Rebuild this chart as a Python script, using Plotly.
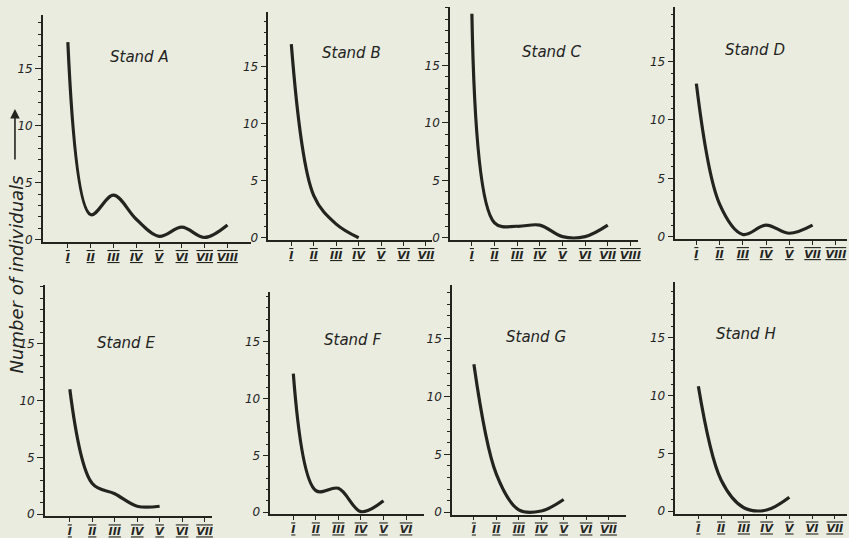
import plotly.graph_objects as go

# ---------------- data ----------------
roman = ["I", "II", "III", "IV", "V", "VI", "VII", "VIII"]
stand_names = ["Stand A", "Stand B", "Stand C", "Stand D",
               "Stand E", "Stand F", "Stand G", "Stand H"]

vals_A = [17.3, 2.2, 3.9, 1.8, 0.3, 1.1, 0.2, 1.3]
vals_B = [17.0, 3.7, 1.2, 0.0]
vals_C = [19.5, 1.3, 1.0, 1.1, 0.1, 0.1, 1.1]
vals_D = [13.1, 2.8, 0.2, 1.0, 0.3, 1.0]
vals_E = [11.0, 2.7, 1.8, 0.7, 0.7]
vals_F = [12.2, 1.9, 2.1, 0.05, 1.0]
vals_G = [12.8, 3.3, 0.2, 0.1, 1.1]
vals_H = [10.8, 2.7, 0.3, 0.1, 1.2]

ticks_A = roman[:8]
ticks_B = roman[:7]
ticks_C = roman[:8]
ticks_D = ["I", "II", "III", "IV", "V", "VII", "VIII"]
ticks_E = roman[:7]
ticks_F = roman[:6]
ticks_G = roman[:7]
ticks_H = roman[:7]

y_tick_vals = [0, 5, 10, 15]
y_title = "Number of individuals"

series = [vals_A, vals_B, vals_C, vals_D, vals_E, vals_F, vals_G, vals_H]
xticks = [ticks_A, ticks_B, ticks_C, ticks_D, ticks_E, ticks_F, ticks_G, ticks_H]

# ---------------- layout (pixel geometry of each small panel) ----------------
W, H = 849, 538
# left, right, px of tick I, spacing, zero px, top px, px per unit
geom = [
    (43, 252, 68, 22.86, 242, 15, 11.53),
    (269, 433, 292, 22.5, 240, 12, 11.5),
    (451, 640, 473, 22.7, 240, 7, 11.6),
    (677, 849, 698, 23.3, 239, 7, 11.8),
    (45, 213, 70, 22.5, 519, 288, 11.47),
    (271, 425, 294, 22.6, 517, 295, 11.47),
    (453, 627, 475, 22.5, 517, 288, 11.67),
    (677, 849, 700, 22.8, 516, 285, 11.67),
]
label_pos = [(140, 58), (352, 53), (553, 52), (757, 50),
             (126, 346), (353, 343), (537, 340), (748, 337)]

ink = "#24241f"
bg = "#eaecdf"
FONT = "DejaVu Sans"
ylo = -0.2

fig = go.Figure()
layout = dict(
    width=W, height=H, margin=dict(l=0, r=0, t=0, b=0),
    paper_bgcolor=bg, plot_bgcolor="rgba(0,0,0,0)", showlegend=False,
    annotations=[],
)

for i, (vals, tt, g) in enumerate(zip(series, xticks, geom)):
    left, right, ipx, sp, zero, top, ppu = g
    n = i + 1
    xa = "xaxis" if n == 1 else f"xaxis{n}"
    ya = "yaxis" if n == 1 else f"yaxis{n}"
    xr = "x" if n == 1 else f"x{n}"
    yr = "y" if n == 1 else f"y{n}"
    xs = list(range(1, len(vals) + 1))
    fig.add_trace(go.Scatter(
        x=xs, y=vals, mode="lines", xaxis=xr, yaxis=yr,
        line=dict(color=ink, width=3.2, shape="spline", smoothing=1.0),
        hoverinfo="skip",
    ))
    lo = 1 - (ipx - left) / sp
    hi = 1 + (right - ipx) / sp
    yhi = (zero - top) / ppu
    bottom_px = zero - ylo * ppu
    ticktext = [
        f'<span style="text-decoration:underline overline">{t}</span>' for t in tt
    ]
    layout[xa] = dict(
        domain=[left / W, right / W], range=[lo, hi], anchor=yr,
        showline=True, linecolor=ink, linewidth=1.5,
        showgrid=False, zeroline=False,
        tickmode="array", tickvals=list(range(1, len(tt) + 1)), ticktext=ticktext,
        ticks="outside", ticklen=4, tickcolor=ink, tickwidth=1.3,
        tickfont=dict(family=FONT, size=11, color=ink, style="italic", weight="bold"),
    )
    layout[ya] = dict(
        domain=[(H - bottom_px) / H, (H - top) / H], range=[ylo, yhi], anchor=xr,
        showline=True, linecolor=ink, linewidth=1.5,
        showgrid=False, zeroline=False,
        tickmode="array", tickvals=y_tick_vals,
        ticks="outside", ticklen=6, tickcolor=ink, tickwidth=1.3,
        minor=dict(dtick=1, tick0=0, ticks="outside", ticklen=3, tickcolor=ink,
                   tickwidth=1, showgrid=False),
        tickfont=dict(family=FONT, size=12, color=ink, style="italic"),
    )
    lx, ly = label_pos[i]
    layout["annotations"].append(dict(
        x=lx / W, y=(H - ly) / H, xref="paper", yref="paper",
        text=stand_names[i], showarrow=False,
        font=dict(family=FONT, size=15, color=ink, style="italic"),
        xanchor="center", yanchor="middle",
    ))

# y axis title and arrow
layout["annotations"].append(dict(
    x=16 / W, y=(H - 277) / H, xref="paper", yref="paper",
    text=y_title, textangle=-90, showarrow=False,
    font=dict(family=FONT, size=18, color=ink, style="italic"),
    xanchor="center", yanchor="middle",
))
layout["annotations"].append(dict(
    x=15 / W, y=(H - 110) / H, xref="paper", yref="paper",
    ax=0, ay=52, axref="pixel", ayref="pixel",
    text="", showarrow=True, arrowhead=2, arrowsize=1.2, arrowwidth=1.6,
    arrowcolor=ink,
))

fig.update_layout(**layout)
fig.write_html(
    "out.html",
    config={"displayModeBar": False},
    post_script=(
        "document.body.style.margin='0';"
        "document.body.style.background='" + bg + "';"
        "document.documentElement.style.overflow='hidden';"
    ),
)
